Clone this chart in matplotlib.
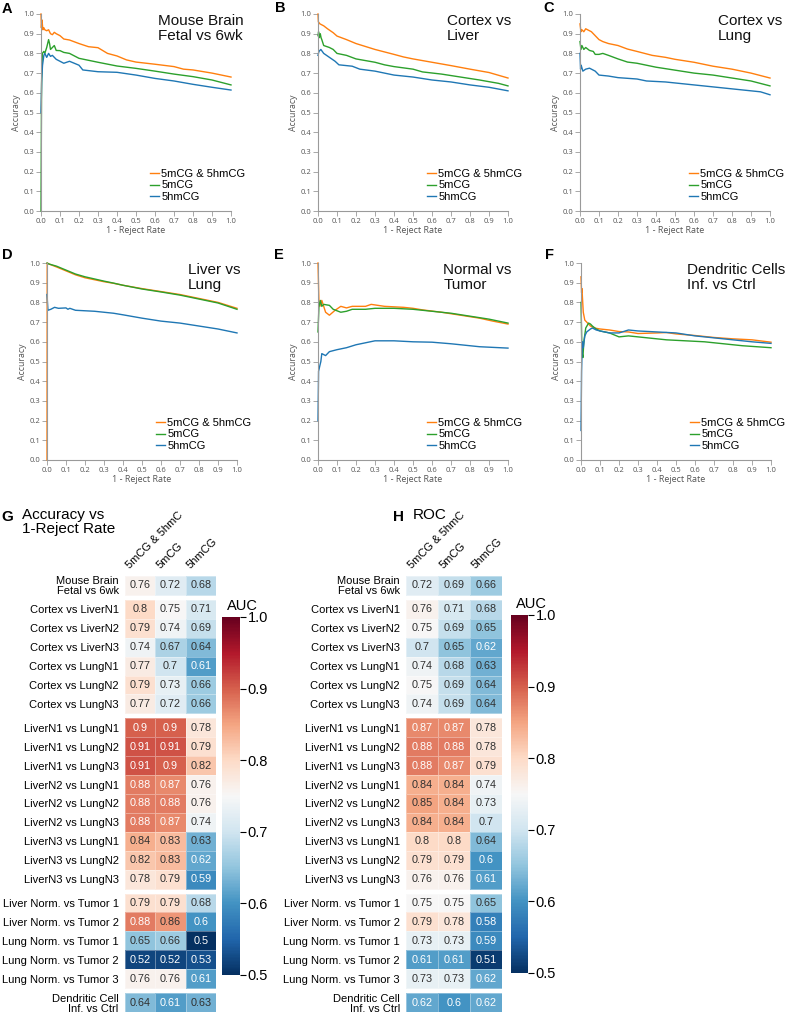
import matplotlib
matplotlib.use('Agg')
import matplotlib.pyplot as plt
import numpy as np
from matplotlib.colors import Normalize
from matplotlib.cm import ScalarMappable

plt.rcParams['font.family'] = ['Liberation Sans', 'DejaVu Sans']

# ---------------- line-panel data ----------------
series_labels = ['5mCG & 5hmCG', '5mCG', '5hmCG']
series_colors = ['#ff7f0e', '#2ca02c', '#1f77b4']
axis_ticks = [0.0, 0.1, 0.2, 0.3, 0.4, 0.5, 0.6, 0.7, 0.8, 0.9, 1.0]

A_title = 'Mouse Brain\nFetal vs 6wk'
A_both_x = [0, 0.002, 0.005, 0.01, 0.015, 0.02, 0.03, 0.04, 0.05, 0.06, 0.07, 0.08, 0.1, 0.12, 0.15, 0.2, 0.25, 0.3, 0.35, 0.4, 0.45, 0.5, 0.6, 0.7, 0.75, 0.8, 0.9, 1.0]
A_both_y = [1.0, 0.93, 0.97, 0.92, 0.93, 0.92, 0.915, 0.92, 0.9, 0.895, 0.907, 0.9, 0.89, 0.873, 0.868, 0.85, 0.834, 0.829, 0.80, 0.787, 0.767, 0.756, 0.745, 0.733, 0.72, 0.716, 0.70, 0.68]
A_m_x = [0, 0.003, 0.007, 0.015, 0.02, 0.03, 0.035, 0.04, 0.045, 0.05, 0.06, 0.07, 0.08, 0.1, 0.12, 0.15, 0.2, 0.3, 0.4, 0.5, 0.6, 0.7, 0.8, 0.9, 1.0]
A_m_y = [0.0, 0.65, 0.80, 0.81, 0.80, 0.83, 0.85, 0.87, 0.85, 0.82, 0.83, 0.84, 0.815, 0.814, 0.805, 0.80, 0.775, 0.755, 0.736, 0.724, 0.71, 0.695, 0.682, 0.665, 0.64]
A_hm_x = [0, 0.004, 0.008, 0.015, 0.02, 0.03, 0.04, 0.05, 0.06, 0.08, 0.1, 0.12, 0.15, 0.2, 0.22, 0.3, 0.4, 0.5, 0.6, 0.7, 0.8, 0.9, 1.0]
A_hm_y = [0.5, 0.67, 0.74, 0.79, 0.80, 0.78, 0.80, 0.785, 0.79, 0.77, 0.76, 0.75, 0.76, 0.74, 0.716, 0.707, 0.704, 0.69, 0.673, 0.66, 0.643, 0.628, 0.614]

B_title = 'Cortex vs\nLiver'
B_both_x = [0, 0.002, 0.01, 0.03, 0.05, 0.08, 0.1, 0.15, 0.2, 0.25, 0.3, 0.4, 0.45, 0.5, 0.6, 0.7, 0.8, 0.9, 1.0]
B_both_y = [1.0, 0.96, 0.95, 0.94, 0.925, 0.905, 0.888, 0.87, 0.85, 0.835, 0.82, 0.795, 0.782, 0.772, 0.755, 0.738, 0.72, 0.703, 0.675]
B_m_x = [0, 0.003, 0.007, 0.012, 0.016, 0.02, 0.03, 0.06, 0.08, 0.1, 0.15, 0.2, 0.3, 0.35, 0.4, 0.5, 0.55, 0.65, 0.75, 0.85, 0.95, 1.0]
B_m_y = [0.89, 0.91, 0.88, 0.90, 0.88, 0.87, 0.84, 0.83, 0.82, 0.80, 0.79, 0.772, 0.755, 0.742, 0.733, 0.72, 0.706, 0.695, 0.68, 0.665, 0.648, 0.635]
B_hm_x = [0, 0.005, 0.015, 0.03, 0.06, 0.09, 0.11, 0.18, 0.22, 0.3, 0.35, 0.4, 0.5, 0.6, 0.7, 0.8, 0.9, 1.0]
B_hm_y = [0.79, 0.81, 0.82, 0.80, 0.78, 0.76, 0.742, 0.735, 0.72, 0.71, 0.70, 0.69, 0.68, 0.665, 0.655, 0.64, 0.628, 0.61]

C_title = 'Cortex vs\nLung'
C_both_x = [0, 0.005, 0.01, 0.02, 0.03, 0.06, 0.08, 0.1, 0.12, 0.15, 0.2, 0.25, 0.3, 0.38, 0.45, 0.5, 0.6, 0.7, 0.8, 0.9, 1.0]
C_both_y = [0.95, 0.91, 0.92, 0.91, 0.925, 0.91, 0.89, 0.87, 0.86, 0.85, 0.84, 0.822, 0.81, 0.79, 0.78, 0.77, 0.755, 0.735, 0.72, 0.70, 0.675]
C_m_x = [0, 0.005, 0.01, 0.02, 0.03, 0.05, 0.07, 0.08, 0.1, 0.12, 0.15, 0.2, 0.25, 0.3, 0.4, 0.5, 0.6, 0.7, 0.8, 0.9, 1.0]
C_m_y = [0.86, 0.82, 0.84, 0.82, 0.83, 0.815, 0.81, 0.795, 0.795, 0.80, 0.79, 0.772, 0.756, 0.75, 0.73, 0.715, 0.70, 0.69, 0.675, 0.66, 0.635]
C_hm_x = [0, 0.003, 0.006, 0.015, 0.03, 0.05, 0.08, 0.1, 0.15, 0.2, 0.3, 0.35, 0.45, 0.55, 0.65, 0.75, 0.85, 0.95, 1.0]
C_hm_y = [0.80, 0.72, 0.74, 0.71, 0.72, 0.725, 0.71, 0.69, 0.685, 0.677, 0.67, 0.66, 0.655, 0.645, 0.635, 0.625, 0.615, 0.605, 0.59]

D_title = 'Liver vs\nLung'
D_both_x = [0, 0.001, 0.01, 0.05, 0.1, 0.15, 0.2, 0.3, 0.35, 0.4, 0.5, 0.6, 0.7, 0.8, 0.9, 1.0]
D_both_y = [0.0, 1.0, 0.995, 0.98, 0.96, 0.94, 0.925, 0.905, 0.897, 0.887, 0.87, 0.855, 0.84, 0.82, 0.80, 0.77]
D_m_x = [0, 0.01, 0.05, 0.1, 0.15, 0.2, 0.3, 0.35, 0.4, 0.5, 0.6, 0.7, 0.8, 0.9, 1.0]
D_m_y = [1.0, 0.995, 0.984, 0.964, 0.944, 0.93, 0.908, 0.898, 0.887, 0.868, 0.853, 0.837, 0.817, 0.797, 0.765]
D_hm_x = [0, 0.005, 0.02, 0.04, 0.06, 0.1, 0.11, 0.12, 0.15, 0.25, 0.35, 0.4, 0.5, 0.6, 0.7, 0.8, 0.9, 1.0]
D_hm_y = [0.84, 0.76, 0.765, 0.775, 0.77, 0.772, 0.765, 0.77, 0.76, 0.755, 0.745, 0.737, 0.72, 0.705, 0.695, 0.68, 0.665, 0.645]

E_title = 'Normal vs\nTumor'
E_both_x = [0, 0.002, 0.005, 0.01, 0.02, 0.03, 0.04, 0.06, 0.09, 0.12, 0.15, 0.18, 0.25, 0.28, 0.35, 0.45, 0.5, 0.55, 0.65, 0.75, 0.85, 0.92, 1.0]
E_both_y = [1.0, 0.92, 0.80, 0.78, 0.81, 0.78, 0.75, 0.735, 0.76, 0.78, 0.772, 0.78, 0.78, 0.79, 0.78, 0.775, 0.77, 0.762, 0.75, 0.735, 0.72, 0.705, 0.69]
E_m_x = [0, 0.005, 0.012, 0.02, 0.03, 0.06, 0.08, 0.12, 0.15, 0.18, 0.25, 0.3, 0.4, 0.5, 0.6, 0.7, 0.8, 0.9, 1.0]
E_m_y = [0.65, 0.78, 0.81, 0.78, 0.79, 0.785, 0.765, 0.75, 0.755, 0.765, 0.765, 0.77, 0.77, 0.765, 0.755, 0.745, 0.73, 0.715, 0.695]
E_hm_x = [0, 0.003, 0.01, 0.015, 0.02, 0.04, 0.06, 0.1, 0.15, 0.2, 0.25, 0.3, 0.4, 0.5, 0.6, 0.7, 0.75, 0.85, 1.0]
E_hm_y = [0.2, 0.45, 0.48, 0.50, 0.54, 0.53, 0.55, 0.56, 0.57, 0.585, 0.595, 0.605, 0.605, 0.60, 0.598, 0.59, 0.585, 0.575, 0.568]

F_title = 'Dendritic Cells\nInf. vs Ctrl'
F_both_x = [0, 0.003, 0.005, 0.012, 0.02, 0.03, 0.05, 0.07, 0.1, 0.15, 0.2, 0.25, 0.3, 0.4, 0.45, 0.5, 0.6, 0.7, 0.8, 0.9, 1.0]
F_both_y = [0.93, 0.85, 0.87, 0.75, 0.71, 0.70, 0.68, 0.67, 0.665, 0.66, 0.652, 0.65, 0.642, 0.645, 0.647, 0.64, 0.632, 0.622, 0.615, 0.61, 0.598]
F_m_x = [0, 0.005, 0.01, 0.015, 0.025, 0.04, 0.05, 0.06, 0.08, 0.1, 0.15, 0.2, 0.25, 0.35, 0.45, 0.55, 0.65, 0.75, 0.85, 1.0]
F_m_y = [0.8, 0.55, 0.52, 0.60, 0.67, 0.695, 0.69, 0.68, 0.665, 0.655, 0.645, 0.625, 0.63, 0.62, 0.61, 0.605, 0.60, 0.59, 0.58, 0.57]
F_hm_x = [0, 0.003, 0.007, 0.012, 0.02, 0.03, 0.05, 0.06, 0.08, 0.1, 0.15, 0.2, 0.25, 0.3, 0.4, 0.5, 0.6, 0.7, 0.8, 0.9, 1.0]
F_hm_y = [0.15, 0.45, 0.60, 0.57, 0.63, 0.65, 0.665, 0.67, 0.66, 0.655, 0.645, 0.645, 0.66, 0.655, 0.65, 0.645, 0.63, 0.62, 0.61, 0.60, 0.592]

# ---------------- heatmap data ----------------
col_labels = ['5mCG & 5hmC', '5mCG', '5hmCG']
row_labels = ['Mouse Brain\nFetal vs 6wk',
              'Cortex vs LiverN1', 'Cortex vs LiverN2', 'Cortex vs LiverN3',
              'Cortex vs LungN1', 'Cortex vs LungN2', 'Cortex vs LungN3',
              'LiverN1 vs LungN1', 'LiverN1 vs LungN2', 'LiverN1 vs LungN3',
              'LiverN2 vs LungN1', 'LiverN2 vs LungN2', 'LiverN2 vs LungN3',
              'LiverN3 vs LungN1', 'LiverN3 vs LungN2', 'LiverN3 vs LungN3',
              'Liver Norm. vs Tumor 1', 'Liver Norm. vs Tumor 2',
              'Lung Norm. vs Tumor 1', 'Lung Norm. vs Tumor 2', 'Lung Norm. vs Tumor 3',
              'Dendritic Cell\nInf. vs Ctrl']
group_sizes = [1, 6, 9, 5, 1]

G_both = [0.76, 0.8, 0.79, 0.74, 0.77, 0.79, 0.77, 0.9, 0.91, 0.91, 0.88, 0.88, 0.88, 0.84, 0.82, 0.78, 0.79, 0.88, 0.65, 0.52, 0.76, 0.64]
G_m = [0.72, 0.75, 0.74, 0.67, 0.7, 0.73, 0.72, 0.9, 0.91, 0.9, 0.87, 0.88, 0.87, 0.83, 0.83, 0.79, 0.79, 0.86, 0.66, 0.52, 0.76, 0.61]
G_hm = [0.68, 0.71, 0.69, 0.64, 0.61, 0.66, 0.66, 0.78, 0.79, 0.82, 0.76, 0.76, 0.74, 0.63, 0.62, 0.59, 0.68, 0.6, 0.5, 0.53, 0.61, 0.63]

H_both = [0.72, 0.76, 0.75, 0.7, 0.74, 0.75, 0.74, 0.87, 0.88, 0.88, 0.84, 0.85, 0.84, 0.8, 0.79, 0.76, 0.75, 0.79, 0.73, 0.61, 0.73, 0.62]
H_m = [0.69, 0.71, 0.69, 0.65, 0.68, 0.69, 0.69, 0.87, 0.88, 0.87, 0.84, 0.84, 0.84, 0.8, 0.79, 0.76, 0.75, 0.78, 0.73, 0.61, 0.73, 0.6]
H_hm = [0.66, 0.68, 0.65, 0.62, 0.63, 0.64, 0.64, 0.78, 0.78, 0.79, 0.74, 0.73, 0.7, 0.64, 0.6, 0.61, 0.65, 0.58, 0.59, 0.51, 0.62, 0.62]

cbar_ticks = [0.5, 0.6, 0.7, 0.8, 0.9, 1.0]

# ---------------- figure ----------------
W, Hpx = 785, 1015
fig = plt.figure(figsize=(W / 100, Hpx / 100), dpi=100)


def ax_px(l, t, r, b):
    return fig.add_axes([l / W, 1 - b / Hpx, (r - l) / W, (b - t) / Hpx])


gray = '#9a9a9a'
tickgray = '#555555'


def line_panel(box, letter, letter_xy, title, tx, series):
    ax = ax_px(*box)
    for (x, y), c, lab in zip(series, series_colors, series_labels):
        ax.plot(x, y, color=c, lw=1.0, label=lab, clip_on=False)
    ax.set_xlim(0, 1)
    ax.set_ylim(0, 1)
    ax.set_xticks(axis_ticks)
    ax.set_yticks(axis_ticks)
    ax.set_xticklabels([f'{t:.1f}' for t in axis_ticks])
    ax.set_yticklabels([f'{t:.1f}' for t in axis_ticks])
    for s in ['top', 'right']:
        ax.spines[s].set_visible(False)
    for s in ['left', 'bottom']:
        ax.spines[s].set_color(gray)
        ax.spines[s].set_linewidth(0.8)
    ax.tick_params(axis='both', length=3.5, width=0.6, color=gray, pad=1.2,
                   labelsize=5.5, labelcolor=tickgray)
    for lab in ax.get_xticklabels() + ax.get_yticklabels():
        lab.set_family(['Open Sans', 'DejaVu Sans'])
    ax.set_xlabel('1 - Reject Rate', fontsize=6.5, color=tickgray, labelpad=1.0,
                  family=['Open Sans', 'DejaVu Sans'])
    ax.set_ylabel('Accuracy', fontsize=6.3, color=tickgray, labelpad=2.0,
                  family=['Open Sans', 'DejaVu Sans'])
    ax.text(tx, 1.0, title, transform=ax.transAxes, ha='left', va='top',
            fontsize=11, color='#111111', linespacing=1.05)
    ax.legend(loc='lower left', bbox_to_anchor=(0.574, 0.045), frameon=False,
              fontsize=8, handlelength=0.8, handletextpad=0.2, labelspacing=0.15,
              borderpad=0, borderaxespad=0)
    fig.text(letter_xy[0] / W, 1 - letter_xy[1] / Hpx, letter, fontsize=10.5,
             fontweight='bold', ha='center', va='center')
    return ax


line_panel((41, 14, 231, 211), 'A', (7, 9), A_title, 0.615,
           [(A_both_x, A_both_y), (A_m_x, A_m_y), (A_hm_x, A_hm_y)])
line_panel((318, 14, 508, 211), 'B', (280, 8), B_title, 0.68,
           [(B_both_x, B_both_y), (B_m_x, B_m_y), (B_hm_x, B_hm_y)])
line_panel((580, 14, 770, 211), 'C', (549, 8), C_title, 0.725,
           [(C_both_x, C_both_y), (C_m_x, C_m_y), (C_hm_x, C_hm_y)])
line_panel((47, 263, 237, 460), 'D', (7, 255), D_title, 0.74,
           [(D_both_x, D_both_y), (D_m_x, D_m_y), (D_hm_x, D_hm_y)])
line_panel((318, 263, 508, 460), 'E', (279, 255), E_title, 0.66,
           [(E_both_x, E_both_y), (E_m_x, E_m_y), (E_hm_x, E_hm_y)])
line_panel((581, 263, 771, 460), 'F', (549, 255), F_title, 0.56,
           [(F_both_x, F_both_y), (F_m_x, F_m_y), (F_hm_x, F_hm_y)])

# ---------------- heatmaps ----------------
cmap = plt.get_cmap('RdBu_r')
norm = Normalize(vmin=0.5, vmax=1.0)
gap = 0.24


def lum(rgba):
    rgb = np.array(rgba[:3])
    rgb = np.where(rgb <= 0.03928, rgb / 12.92, ((rgb + 0.055) / 1.055) ** 2.4)
    return float(rgb.dot([0.2126, 0.7152, 0.0722]))


def heat_panel(box, cols):
    ax = ax_px(*box)
    vals = np.array(cols).T
    start = 0
    y0 = 0.0
    centers = []
    for gs in group_sizes:
        block = vals[start:start + gs]
        ax.pcolormesh(np.arange(4), y0 + np.arange(gs + 1), block, cmap=cmap,
                      norm=norm, edgecolors=(1, 1, 1, 0.35), linewidth=0.4)
        for i in range(gs):
            for j in range(3):
                v = block[i, j]
                tc = '#303030' if lum(cmap(norm(v))) > 0.38 else 'white'
                ax.text(j + 0.5, y0 + i + 0.5, f'{v:g}', ha='center', va='center',
                        fontsize=7.8, color=tc)
            centers.append(y0 + i + 0.5)
        start += gs
        y0 += gs + gap
    ax.set_xlim(0, 3)
    ax.set_ylim(y0 - gap, 0)
    ax.set_xticks([])
    ax.set_yticks(centers)
    ax.set_yticklabels(row_labels, fontsize=8, linespacing=1.0)
    ax.tick_params(axis='y', length=0, pad=4.5)
    for s in ax.spines.values():
        s.set_visible(False)
    for j, lab in enumerate(col_labels):
        ax.text(j + 0.22, -0.3, lab, rotation=45, rotation_mode='anchor',
                ha='left', va='bottom', fontsize=8, clip_on=False)
    return ax


def cbar(box):
    cax = ax_px(*box)
    sm = ScalarMappable(norm=norm, cmap=cmap)
    cb = fig.colorbar(sm, cax=cax, ticks=cbar_ticks)
    cb.outline.set_visible(False)
    cb.ax.set_yticklabels([f'{t:.1f}' for t in cbar_ticks])
    cb.ax.tick_params(labelsize=10.5, length=4, width=0.8, pad=1.5)
    cax.text(0.3, 1.012, 'AUC', transform=cax.transAxes, ha='left', va='bottom',
             fontsize=10.5)
    return cb


heat_panel((125, 576, 216, 1012), [G_both, G_m, G_hm])
heat_panel((406, 576, 502, 1012), [H_both, H_m, H_hm])
cbar((222, 617, 240, 975))
cbar((511, 615, 528, 973))

fig.text(7 / W, 1 - 517 / Hpx, 'G', fontsize=11, fontweight='bold', ha='center', va='center')
fig.text(22 / W, 1 - 508 / Hpx, 'Accuracy vs\n1-Reject Rate', fontsize=11, ha='left', va='top',
         linespacing=1.0)
fig.text(398 / W, 1 - 517 / Hpx, 'H', fontsize=11, fontweight='bold', ha='center', va='center')
fig.text(413 / W, 1 - 508 / Hpx, 'ROC', fontsize=11, ha='left', va='top')

fig.savefig('out.png', dpi=100)
